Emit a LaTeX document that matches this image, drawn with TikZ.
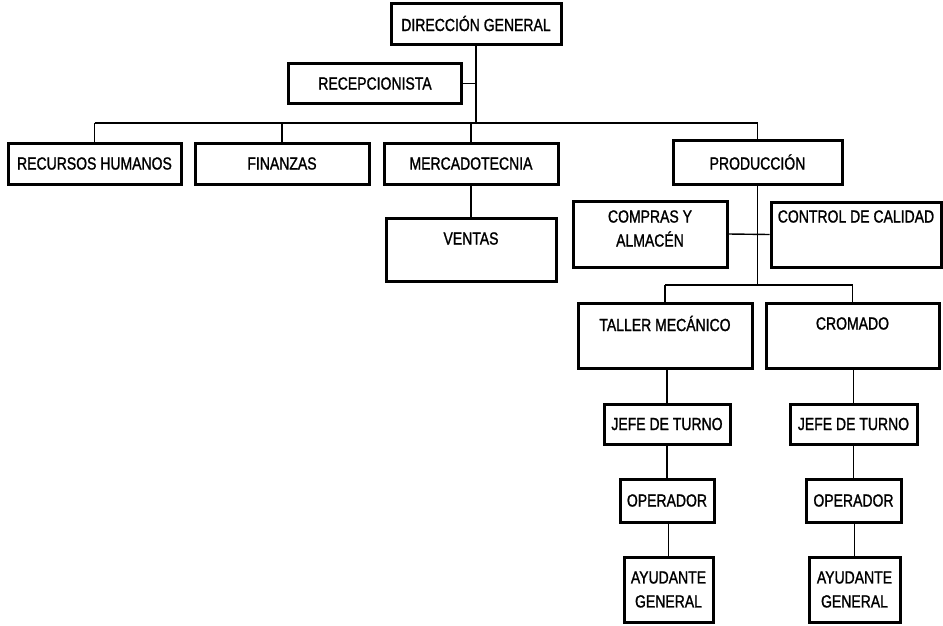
\documentclass[tikz,border=0pt]{standalone}
\usepackage{fontspec}
\setmainfont[FakeStretch=0.8,FakeBold=1.2]{Liberation Sans}
\begin{document}
\begin{tikzpicture}[x=1pt,y=-1pt,
  box/.style={draw=black, line width=3pt, fill=white, inner sep=0pt,
    align=center, font=\fontsize{17.5}{24}\selectfont},
  size/.style 2 args={minimum width=#1pt, minimum height=#2pt},
  lbl/.style={inner sep=0pt, align=center, font=\fontsize{17.5}{24}\selectfont},
  link/.style={draw=black, line width=1.4pt}]
\useasboundingbox (0,0) rectangle (943,625);

% top management
\node[box, size={170}{41}] (dg) at (476,23.5) {DIRECCIÓN GENERAL};
\node[box, size={173}{40}] (rec) at (375,83.5) {RECEPCIONISTA};

% departments
\node[box, size={173}{41}] (rh) at (94.5,163.5) {RECURSOS HUMANOS};
\node[box, size={174}{41}] (fin) at (282,163.5) {FINANZAS};
\node[box, size={174}{41}] (merc) at (471,163.5) {MERCADOTECNIA};
\node[box, size={169}{44}] (prod) at (757.5,162) {PRODUCCIÓN};

% sales
\node[box, size={170}{63}] (ven) at (471,249.5) {};
\node[lbl] at ([yshift=-22pt]ven.north) {VENTAS};

% production staff areas
\node[box, size={154}{66}] (cya) at (650,234) {};
\node[lbl] at ([yshift=5.5pt]cya.center) {COMPRAS Y\\ALMACÉN};
\node[box, size={170}{65}] (cc) at (856,234.5) {};
\node[lbl] at ([yshift=-16pt]cc.north) {CONTROL DE CALIDAD};

% workshops
\node[box, size={174}{65}] (tm) at (665,335.5) {};
\node[lbl] at ([yshift=-22pt]tm.north) {TALLER MECÁNICO};
\node[box, size={173}{65}] (cr) at (852.5,335.5) {};
\node[lbl] at ([yshift=-22pt]cr.north) {CROMADO};

% shift chains
\node[box, size={126}{40}] (jt1) at (667,424) {JEFE DE TURNO};
\node[box, size={127}{40}] (jt2) at (853.5,424) {JEFE DE TURNO};
\node[box, size={94}{43}] (op1) at (667,500.5) {OPERADOR};
\node[box, size={95}{43}] (op2) at (853.5,500.5) {OPERADOR};
\node[box, size={89}{65}] (ay1) at (668.5,589.5) {AYUDANTE\\GENERAL};
\node[box, size={91}{65}] (ay2) at (854.5,589.5) {AYUDANTE\\GENERAL};

% bus lines
\coordinate (busA) at (0,123);
\coordinate (busB) at (0,285);

% connectors
\draw[link] (dg.south) -- (dg.south |- busA);
\draw[link] (rec.east) -- (rec.east -| dg.south);
\draw[link] (rh.north |- busA) -- (prod.north |- busA);
\draw[link] (rh.north) -- (rh.north |- busA);
\draw[link] (fin.north) -- (fin.north |- busA);
\draw[link] (merc.north) -- (merc.north |- busA);
\draw[link] (prod.north) -- (prod.north |- busA);
\draw[link] (ven.north) -- (ven.north |- merc.south);

\draw[link] (prod.south) -- (prod.south |- busB);
\draw[link] (cya.east) -- (cc.west);
\draw[link] (tm.north |- busB) -- (cr.north |- busB);
\draw[link] (tm.north) -- (tm.north |- busB);
\draw[link] (cr.north) -- (cr.north |- busB);

\draw[link] (jt1.north) -- (jt1.north |- tm.south);
\draw[link] (op1.north) -- (op1.north |- jt1.south);
\draw[link] (ay1.north) -- (ay1.north |- op1.south);
\draw[link] (jt2.north) -- (jt2.north |- cr.south);
\draw[link] (op2.north) -- (op2.north |- jt2.south);
\draw[link] (ay2.north) -- (ay2.north |- op2.south);
\end{tikzpicture}
\end{document}
